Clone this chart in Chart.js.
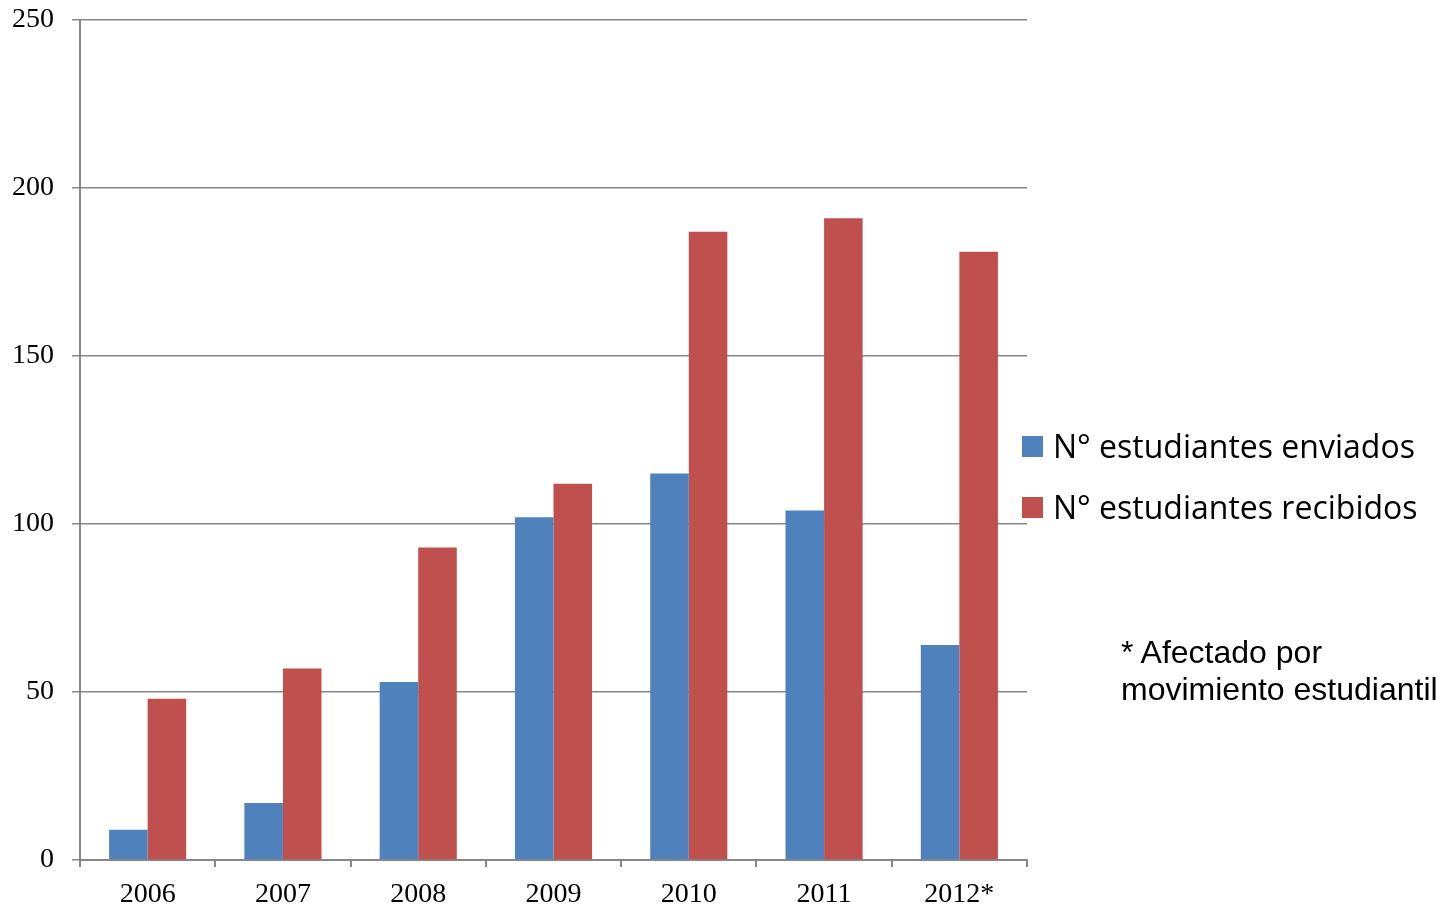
<!DOCTYPE html>
<html>
<head>
<meta charset="utf-8">
<script src="https://cdn.jsdelivr.net/npm/chart.js@4"></script>
<style>
    body { margin: 0; background: #fff; }
    #wrap { position: relative; width: 1440px; height: 905px; }
    #legend { position: absolute; left: 1022px; top: 424px; font-family: "Open Sans", sans-serif; font-size: 32px; color: #000; }
    #legend .item { height: 61px; display: flex; align-items: flex-start; white-space: nowrap; line-height: 44px; }
    #legend .box { width: 21px; height: 21px; margin-top: 12px; margin-right: 10px; }
    #note { position: absolute; left: 1121px; top: 634px; font-family: "Liberation Sans", Arial, sans-serif; font-size: 32px; line-height: 37px; color: #000; white-space: nowrap; }
</style>
</head>
<body>
<div id="wrap">
    <canvas id="chart" width="1440" height="905"></canvas>
    <div id="legend"></div>
    <div id="note">* Afectado por<br>movimiento estudiantil</div>
</div>
<script>
// ===== DATOS =====
const years = ['2006', '2007', '2008', '2009', '2010', '2011', '2012*'];
const enviados = [9, 17, 53, 102, 115, 104, 64];
const recibidos = [48, 57, 93, 112, 187, 191, 181];
const yTicks = [0, 50, 100, 150, 200, 250];

const seriesNames = ['N° estudiantes enviados', 'N° estudiantes recibidos'];
const seriesColors = ['#4F81BD', '#C0504D'];
const gridColor = '#878787';

function buildLegend(chart) {
    const legend = document.getElementById('legend');
    legend.innerHTML = '';
    chart.data.datasets.forEach(function(ds) {
        const item = document.createElement('div');
        item.className = 'item';
        const box = document.createElement('span');
        box.className = 'box';
        box.style.background = ds.backgroundColor;
        const label = document.createElement('span');
        label.textContent = ds.label;
        item.appendChild(box);
        item.appendChild(label);
        legend.appendChild(item);
    });
}

const ctx = document.getElementById('chart');
const chart = new Chart(ctx, {
    type: 'bar',
    data: {
        labels: years,
        datasets: [{
            label: seriesNames[0],
            data: enviados,
            backgroundColor: seriesColors[0],
            borderWidth: 0
        }, {
            label: seriesNames[1],
            data: recibidos,
            backgroundColor: seriesColors[1],
            borderWidth: 0
        }]
    },
    options: {
        responsive: false,
        animation: false,
        categoryPercentage: 0.57,
        barPercentage: 1,
        layout: {
            padding: { top: 20, right: 413, bottom: 0, left: 0 }
        },
        scales: {
            x: {
                grid: {
                    offset: true,
                    drawOnChartArea: false,
                    drawTicks: true,
                    tickLength: 7,
                    color: gridColor,
                    lineWidth: 2
                },
                border: { color: gridColor, width: 2 },
                ticks: {
                    color: '#000',
                    padding: 11,
                    font: { family: '"Liberation Serif", serif', size: 28 }
                },
                afterFit: function(scale) {
                    scale.height = 45;
                    scale.paddingLeft = 0;
                    scale.paddingRight = 0;
                }
            },
            y: {
                min: 0,
                max: 250,
                afterBuildTicks: function(scale) {
                    scale.ticks = yTicks.map(function(v) { return { value: v }; });
                },
                grid: {
                    color: gridColor,
                    lineWidth: 1.5,
                    tickLength: 8
                },
                border: { color: gridColor, width: 2 },
                ticks: {
                    color: '#000',
                    padding: 18,
                    font: { family: '"Liberation Serif", serif', size: 28 }
                },
                afterFit: function(scale) {
                    scale.width = 80;
                    scale.paddingTop = 0;
                    scale.paddingBottom = 0;
                }
            }
        },
        plugins: {
            legend: { display: false },
            tooltip: { enabled: false }
        }
    }
});

buildLegend(chart);
</script>
</body>
</html>
